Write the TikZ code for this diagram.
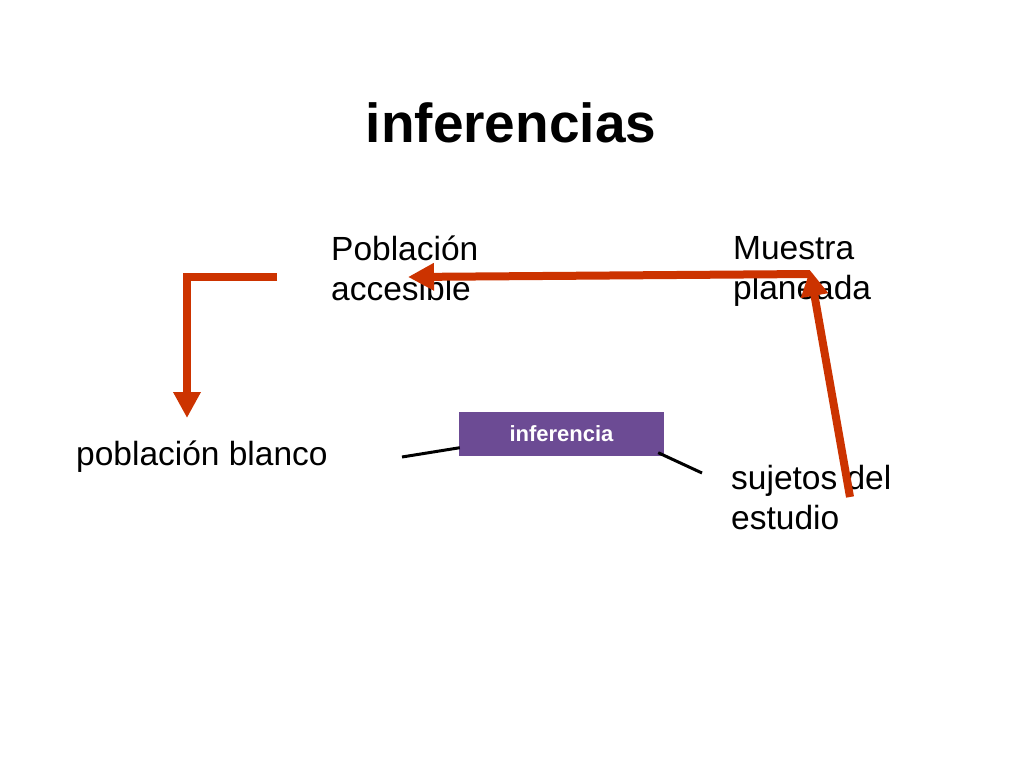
\documentclass[tikz,border=0pt]{standalone}
\usepackage{fontspec}
\setmainfont{Liberation Sans}
\usepackage{xcolor}
\usepackage{tikz}
\usetikzlibrary{arrows.meta,positioning}
\definecolor{flecha}{RGB}{204,51,0}
\definecolor{morado}{RGB}{108,75,148}

\begin{document}
\begin{tikzpicture}[x=1pt, y=-1pt, >={Triangle[length=26pt,width=26pt]},
  etiqueta/.style={inner sep=0pt, anchor=north west, align=left, font=\fontsize{33.5}{40}\selectfont},
  flechaR/.style={->, line width=8pt, flecha, line join=miter},
  linea/.style={line width=3pt, black}]
\useasboundingbox (0,0) rectangle (1024,768);
\node[anchor=base, font=\fontsize{55}{66}\selectfont\bfseries] (T) at (511,142) {inferencias};
\node[etiqueta] (PA) at (331,236) {Población\\accesible};
\node[etiqueta] (MP) at (733,236) {Muestra\\planeada};
\node[etiqueta] (PB) at (76,441) {población blanco};
\node[etiqueta] (SE) at (731,465) {sujetos del\\estudio};
\node[fill=morado, minimum width=205pt, minimum height=44pt, text=white,
  font=\fontsize{22}{26}\selectfont\bfseries] (I) at (561.5,433.5) {inferencia};
% flechas
\coordinate (a1) at (277,277);
\coordinate (a2) at (187,277);
\coordinate (a3) at (187,418);
\coordinate (b1) at (810,274);
\coordinate (b2) at (408,277);
\coordinate (c1) at (850,497);
\coordinate (c2) at (810,270);
\draw[flechaR] (a1) -- (a2) -- (a3);
\draw[flechaR] (b1) -- (b2);
\draw[flechaR] (c1) -- (c2);
% lineas
\coordinate (l1) at (402,457);
\coordinate (l2) at (702,473);
\draw[linea] (l1) -- ([shift={(1,-8)}]I.south west);
\draw[linea] ([shift={(-6,-3)}]I.south east) -- (l2);
\end{tikzpicture}
\end{document}
